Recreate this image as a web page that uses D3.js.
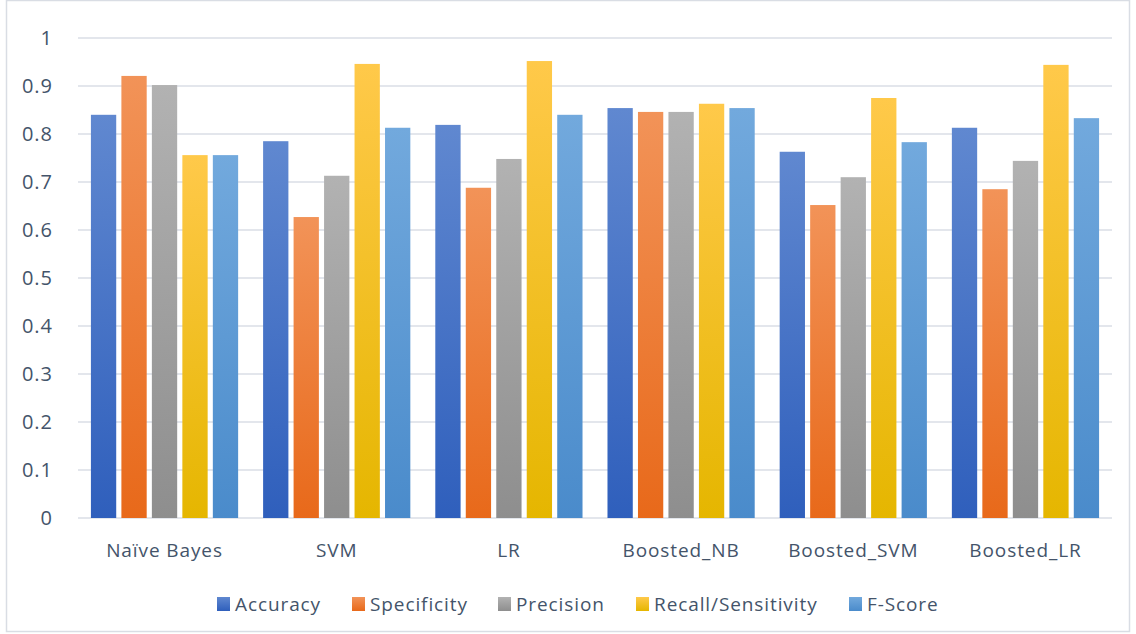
<!DOCTYPE html>
<html><head><meta charset="utf-8">
<script src="https://cdn.jsdelivr.net/npm/d3@7"></script>
<style>body{margin:0;background:#fff;}svg{display:block;}</style>
</head><body><svg id="c" width="1136" height="634"></svg>
<script>
const categories = ["Naïve Bayes","SVM","LR","Boosted_NB","Boosted_SVM","Boosted_LR"];
const seriesNames = ["Accuracy","Specificity","Precision","Recall/Sensitivity","F-Score"];
const accuracy    = [0.840,0.785,0.819,0.854,0.763,0.813];
const specificity = [0.921,0.627,0.688,0.846,0.652,0.685];
const precision   = [0.902,0.713,0.748,0.846,0.710,0.744];
const recall      = [0.756,0.946,0.952,0.863,0.875,0.944];
const fscore      = [0.756,0.813,0.840,0.854,0.783,0.833];
const yTicks = [0,0.1,0.2,0.3,0.4,0.5,0.6,0.7,0.8,0.9,1];
const colorTop = ["#6088d0","#f29358","#b2b2b2","#ffc94a","#72a9dd"];
const colorBot = ["#2f5fbc","#e8691a","#8e8e8e","#e5b600","#4a8bcb"];

const seriesValues = [accuracy,specificity,precision,recall,fscore];
const svg = d3.select("#c");
const W=1136,H=634;
const m={l:78,r:24};
const x0 = d3.scaleBand().domain(categories).range([m.l, W-m.r]).paddingInner(0.145).paddingOuter(0.075);
const x1 = d3.scaleBand().domain(seriesNames).range([0,x0.bandwidth()]).paddingInner(0.17);
const y = d3.scaleLinear().domain([0,1]).range([518,38]);
const font = "'Open Sans', 'Liberation Sans', sans-serif";
const txt = "#44546a";

// border
svg.append("rect").attr("x",6.5).attr("y",0.5).attr("width",W-13).attr("height",H-3)
  .attr("fill","none").attr("stroke","#d9dde4").attr("stroke-width",1.5);

const defs = svg.append("defs");
seriesNames.forEach((s,i)=>{
  const g = defs.append("linearGradient").attr("id","g"+i).attr("x1",0).attr("y1",0).attr("x2",0).attr("y2",1);
  g.append("stop").attr("offset","0%").attr("stop-color",colorTop[i]);
  g.append("stop").attr("offset","100%").attr("stop-color",colorBot[i]);
});

// gridlines
svg.append("g").selectAll("line").data(yTicks).join("line")
  .attr("x1",m.l).attr("x2",W-m.r).attr("y1",d=>y(d)).attr("y2",d=>y(d))
  .attr("stroke","#e3e6ec").attr("stroke-width",2);

// y labels
const yAxis = d3.axisLeft(y).tickValues(yTicks).tickSize(0).tickPadding(0).tickFormat(d=>d3.format("~g")(d));
svg.append("g").attr("transform","translate(53,0)").call(yAxis)
  .call(g=>g.select(".domain").remove())
  .selectAll("text").attr("font-family",font).attr("font-size",20).attr("letter-spacing","1px").attr("fill",txt);

// bars
const groups = svg.append("g").selectAll("g").data(categories).join("g")
  .attr("transform",d=>`translate(${x0(d)},0)`);
groups.selectAll("rect").data((c,ci)=>seriesNames.map((s,si)=>({s,si,v:seriesValues[si][ci]}))).join("rect")
  .attr("x",d=>x1(d.s)).attr("width",x1.bandwidth())
  .attr("y",d=>y(d.v)).attr("height",d=>y(0)-y(d.v))
  .attr("fill",d=>`url(#g${d.si})`);

// x labels
const xAxis = d3.axisBottom(x0).tickSize(0).tickPadding(0);
svg.append("g").attr("transform","translate(0,550)").call(xAxis)
  .call(g=>g.select(".domain").remove())
  .selectAll("text").attr("font-family",font).attr("font-size",19).attr("letter-spacing","0.9px").attr("fill",txt).attr("dy","0.35em");

// legend
const legX = [217,352,498,636,849];
const leg = svg.append("g").selectAll("g").data(seriesNames).join("g")
  .attr("transform",(d,i)=>`translate(${legX[i]},597)`);
leg.append("rect").attr("width",13).attr("height",14).attr("fill",(d,i)=>`url(#g${i})`);
leg.append("text").attr("x",18).attr("y",7).attr("dy","0.35em")
  .attr("font-family",font).attr("font-size",19).attr("letter-spacing","0.9px").attr("fill",txt).text(d=>d);
</script></body></html>
